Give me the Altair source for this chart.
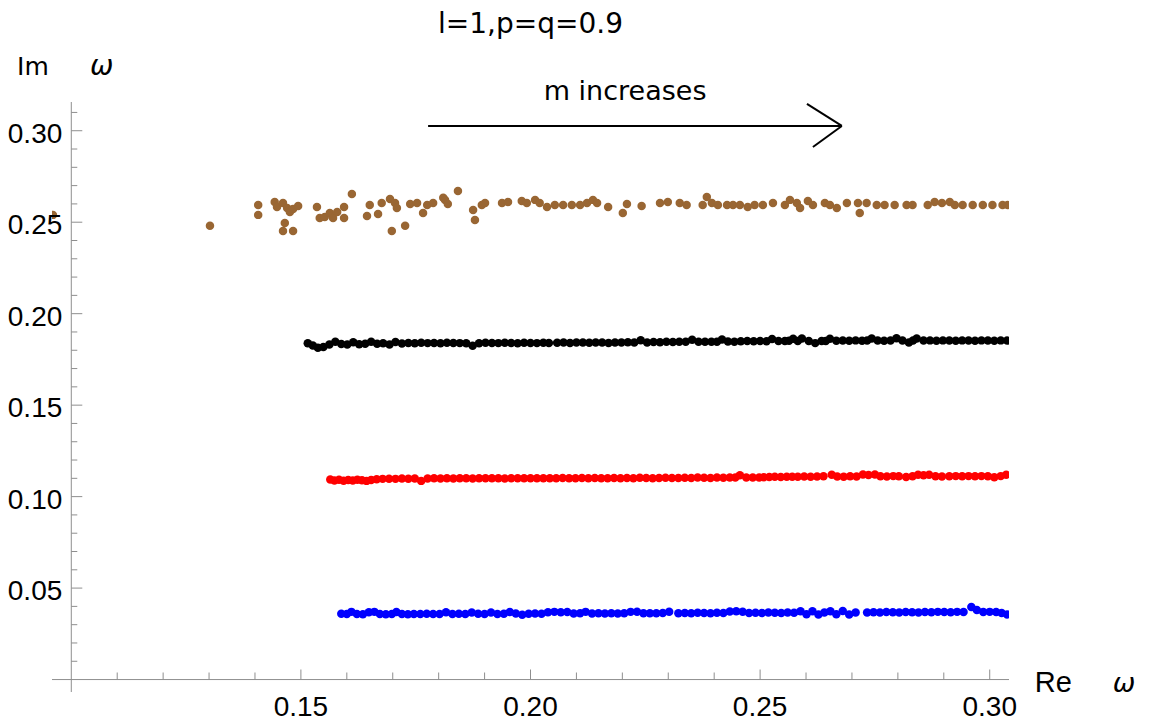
import altair as alt
import pandas as pd

# ---------------- plot range (data units) ----------------
X_MIN, X_MAX = 0.0958, 0.3042
Y_MIN, Y_MAX = -0.0068, 0.3157
AXIS_X, AXIS_Y = 0.10, 0.0

# ---------------- data series (Re w, Im w) ----------------
brown = [
    (0.0960, 0.2540), (0.1302, 0.2480), (0.1407, 0.2594), (0.1407, 0.2540), (0.1443, 0.2611),
    (0.1448, 0.2583), (0.1461, 0.2605), (0.1470, 0.2578), (0.1476, 0.2556), (0.1483, 0.2572),
    (0.1494, 0.2589), (0.1465, 0.2496), (0.1461, 0.2452), (0.1483, 0.2452), (0.1535, 0.2583),
    (0.1541, 0.2523), (0.1552, 0.2529), (0.1563, 0.2550), (0.1570, 0.2523), (0.1579, 0.2556),
    (0.1594, 0.2583), (0.1594, 0.2523), (0.1611, 0.2654), (0.1644, 0.2534), (0.1650, 0.2594),
    (0.1668, 0.2545), (0.1676, 0.2605), (0.1694, 0.2627), (0.1705, 0.2605), (0.1709, 0.2578),
    (0.1698, 0.2452), (0.1727, 0.2480), (0.1738, 0.2600), (0.1753, 0.2605), (0.1766, 0.2550),
    (0.1775, 0.2594), (0.1788, 0.2605), (0.1810, 0.2633), (0.1814, 0.2622), (0.1820, 0.2600),
    (0.1842, 0.2671), (0.1875, 0.2567), (0.1879, 0.2512), (0.1894, 0.2594), (0.1901, 0.2605),
    (0.1938, 0.2605), (0.1951, 0.2611), (0.1981, 0.2616), (0.1992, 0.2605), (0.2010, 0.2622),
    (0.2020, 0.2605), (0.2036, 0.2583), (0.2053, 0.2594), (0.2071, 0.2594), (0.2090, 0.2594),
    (0.2108, 0.2594), (0.2123, 0.2605), (0.2136, 0.2622), (0.2145, 0.2605), (0.2169, 0.2583),
    (0.2201, 0.2550), (0.2210, 0.2600), (0.2242, 0.2589), (0.2282, 0.2605), (0.2299, 0.2611),
    (0.2325, 0.2605), (0.2340, 0.2594), (0.2375, 0.2594), (0.2384, 0.2638), (0.2395, 0.2605),
    (0.2408, 0.2594), (0.2428, 0.2594), (0.2441, 0.2594), (0.2456, 0.2594), (0.2473, 0.2583),
    (0.2488, 0.2594), (0.2506, 0.2594), (0.2528, 0.2605), (0.2554, 0.2594), (0.2565, 0.2622),
    (0.2580, 0.2605), (0.2587, 0.2578), (0.2604, 0.2616), (0.2615, 0.2594), (0.2641, 0.2605),
    (0.2652, 0.2594), (0.2667, 0.2578), (0.2689, 0.2605), (0.2713, 0.2605), (0.2717, 0.2550),
    (0.2732, 0.2605), (0.2754, 0.2594), (0.2771, 0.2594), (0.2793, 0.2594), (0.2819, 0.2594),
    (0.2832, 0.2594), (0.2865, 0.2594), (0.2880, 0.2611), (0.2896, 0.2605), (0.2913, 0.2611),
    (0.2924, 0.2594), (0.2941, 0.2594), (0.2963, 0.2594), (0.2985, 0.2594), (0.3006, 0.2594),
    (0.3028, 0.2594), (0.3039, 0.2594),
]

black = [
    (0.1515, 0.1838), (0.1526, 0.1826), (0.1537, 0.1814), (0.1549, 0.1818), (0.1562, 0.1832),
    (0.1575, 0.1846), (0.1588, 0.1834), (0.1601, 0.1831), (0.1614, 0.1844), (0.1627, 0.1833),
    (0.1640, 0.1836), (0.1653, 0.1847), (0.1666, 0.1835), (0.1679, 0.1838), (0.1693, 0.1832),
    (0.1706, 0.1845), (0.1720, 0.1837), (0.1734, 0.1840), (0.1748, 0.1838), (0.1762, 0.1841),
    (0.1776, 0.1839), (0.1790, 0.1840), (0.1804, 0.1838), (0.1818, 0.1841), (0.1832, 0.1840),
    (0.1846, 0.1839), (0.1860, 0.1838), (0.1874, 0.1825), (0.1888, 0.1838), (0.1902, 0.1841),
    (0.1916, 0.1840), (0.1930, 0.1839), (0.1944, 0.1841), (0.1958, 0.1840), (0.1972, 0.1838),
    (0.1986, 0.1841), (0.2000, 0.1840), (0.2014, 0.1839), (0.2028, 0.1841), (0.2040, 0.1840),
    (0.2058, 0.1841), (0.2072, 0.1842), (0.2086, 0.1840), (0.2100, 0.1843), (0.2114, 0.1842),
    (0.2128, 0.1841), (0.2142, 0.1843), (0.2156, 0.1842), (0.2170, 0.1840), (0.2184, 0.1843),
    (0.2198, 0.1842), (0.2212, 0.1844), (0.2226, 0.1842), (0.2240, 0.1855), (0.2254, 0.1843),
    (0.2268, 0.1845), (0.2282, 0.1844), (0.2296, 0.1846), (0.2310, 0.1845), (0.2324, 0.1846),
    (0.2338, 0.1846), (0.2352, 0.1858), (0.2366, 0.1847), (0.2380, 0.1846), (0.2394, 0.1847),
    (0.2406, 0.1846), (0.2417, 0.1859), (0.2430, 0.1848), (0.2444, 0.1847), (0.2458, 0.1849),
    (0.2472, 0.1850), (0.2486, 0.1849), (0.2500, 0.1850), (0.2514, 0.1849), (0.2526, 0.1862),
    (0.2540, 0.1850), (0.2554, 0.1851), (0.2563, 0.1852), (0.2572, 0.1863), (0.2582, 0.1851),
    (0.2591, 0.1864), (0.2606, 0.1851), (0.2620, 0.1839), (0.2634, 0.1850), (0.2643, 0.1851),
    (0.2652, 0.1863), (0.2666, 0.1852), (0.2680, 0.1853), (0.2694, 0.1852), (0.2708, 0.1854),
    (0.2722, 0.1852), (0.2733, 0.1853), (0.2743, 0.1864), (0.2756, 0.1853), (0.2770, 0.1852),
    (0.2784, 0.1853), (0.2797, 0.1865), (0.2810, 0.1853), (0.2824, 0.1842), (0.2833, 0.1853),
    (0.2841, 0.1864), (0.2856, 0.1853), (0.2870, 0.1854), (0.2884, 0.1852), (0.2898, 0.1854),
    (0.2912, 0.1853), (0.2926, 0.1852), (0.2940, 0.1854), (0.2954, 0.1853), (0.2968, 0.1852),
    (0.2982, 0.1854), (0.2996, 0.1853), (0.3010, 0.1852), (0.3024, 0.1854), (0.3038, 0.1853),
]

red = [
    (0.1564, 0.1093), (0.1573, 0.1088), (0.1583, 0.1092), (0.1593, 0.1087), (0.1603, 0.1091),
    (0.1613, 0.1088), (0.1623, 0.1092), (0.1633, 0.1089), (0.1643, 0.1086), (0.1653, 0.1091),
    (0.1665, 0.1095), (0.1678, 0.1097), (0.1692, 0.1098), (0.1706, 0.1097), (0.1720, 0.1099),
    (0.1734, 0.1098), (0.1748, 0.1099), (0.1762, 0.1086), (0.1776, 0.1099), (0.1790, 0.1100),
    (0.1804, 0.1099), (0.1818, 0.1100), (0.1832, 0.1099), (0.1846, 0.1101), (0.1860, 0.1100),
    (0.1874, 0.1099), (0.1888, 0.1101), (0.1902, 0.1100), (0.1916, 0.1101), (0.1930, 0.1100),
    (0.1944, 0.1099), (0.1958, 0.1101), (0.1972, 0.1100), (0.1986, 0.1101), (0.2000, 0.1100),
    (0.2014, 0.1101), (0.2028, 0.1100), (0.2042, 0.1101), (0.2056, 0.1100), (0.2070, 0.1102),
    (0.2084, 0.1101), (0.2098, 0.1100), (0.2112, 0.1102), (0.2126, 0.1101), (0.2140, 0.1102),
    (0.2154, 0.1101), (0.2168, 0.1100), (0.2182, 0.1102), (0.2196, 0.1101), (0.2210, 0.1102),
    (0.2224, 0.1101), (0.2238, 0.1103), (0.2252, 0.1102), (0.2266, 0.1101), (0.2280, 0.1102),
    (0.2294, 0.1103), (0.2308, 0.1102), (0.2322, 0.1102), (0.2336, 0.1103), (0.2350, 0.1102),
    (0.2364, 0.1104), (0.2378, 0.1103), (0.2392, 0.1102), (0.2406, 0.1104), (0.2420, 0.1103),
    (0.2434, 0.1104), (0.2446, 0.1105), (0.2456, 0.1117), (0.2470, 0.1104), (0.2484, 0.1105),
    (0.2498, 0.1104), (0.2508, 0.1106), (0.2520, 0.1107), (0.2532, 0.1108), (0.2545, 0.1107),
    (0.2558, 0.1109), (0.2570, 0.1108), (0.2582, 0.1108), (0.2596, 0.1110), (0.2610, 0.1109),
    (0.2624, 0.1110), (0.2638, 0.1111), (0.2656, 0.1120), (0.2668, 0.1110), (0.2682, 0.1109),
    (0.2696, 0.1111), (0.2710, 0.1110), (0.2724, 0.1121), (0.2736, 0.1118), (0.2750, 0.1121),
    (0.2762, 0.1111), (0.2776, 0.1110), (0.2790, 0.1112), (0.2802, 0.1111), (0.2818, 0.1107),
    (0.2832, 0.1111), (0.2844, 0.1120), (0.2856, 0.1117), (0.2868, 0.1120), (0.2882, 0.1111),
    (0.2896, 0.1110), (0.2912, 0.1111), (0.2926, 0.1112), (0.2940, 0.1111), (0.2954, 0.1112),
    (0.2968, 0.1111), (0.2982, 0.1112), (0.2996, 0.1111), (0.3010, 0.1106), (0.3024, 0.1112),
    (0.3036, 0.1120),
]

blue = [
    (0.1588, 0.0360), (0.1600, 0.0358), (0.1610, 0.0370), (0.1622, 0.0359), (0.1635, 0.0357),
    (0.1648, 0.0368), (0.1660, 0.0370), (0.1672, 0.0358), (0.1685, 0.0357), (0.1698, 0.0359),
    (0.1708, 0.0369), (0.1720, 0.0358), (0.1733, 0.0357), (0.1746, 0.0359), (0.1760, 0.0358),
    (0.1774, 0.0360), (0.1788, 0.0358), (0.1802, 0.0359), (0.1816, 0.0368), (0.1830, 0.0359),
    (0.1844, 0.0360), (0.1858, 0.0358), (0.1872, 0.0367), (0.1886, 0.0360), (0.1900, 0.0358),
    (0.1914, 0.0366), (0.1928, 0.0359), (0.1942, 0.0360), (0.1955, 0.0369), (0.1968, 0.0361),
    (0.1982, 0.0354), (0.1996, 0.0360), (0.2010, 0.0361), (0.2024, 0.0360), (0.2038, 0.0368),
    (0.2052, 0.0370), (0.2066, 0.0368), (0.2080, 0.0369), (0.2094, 0.0361), (0.2108, 0.0362),
    (0.2120, 0.0370), (0.2134, 0.0361), (0.2148, 0.0362), (0.2162, 0.0361), (0.2176, 0.0363),
    (0.2190, 0.0361), (0.2204, 0.0362), (0.2218, 0.0370), (0.2232, 0.0371), (0.2246, 0.0362),
    (0.2260, 0.0363), (0.2274, 0.0362), (0.2288, 0.0364), (0.2302, 0.0371), (0.2322, 0.0363),
    (0.2336, 0.0364), (0.2350, 0.0363), (0.2364, 0.0365), (0.2378, 0.0364), (0.2392, 0.0363),
    (0.2406, 0.0365), (0.2420, 0.0364), (0.2434, 0.0372), (0.2448, 0.0373), (0.2462, 0.0371),
    (0.2476, 0.0364), (0.2490, 0.0365), (0.2504, 0.0364), (0.2518, 0.0366), (0.2532, 0.0365),
    (0.2546, 0.0364), (0.2560, 0.0366), (0.2574, 0.0365), (0.2588, 0.0373), (0.2601, 0.0357),
    (0.2614, 0.0374), (0.2627, 0.0356), (0.2640, 0.0366), (0.2653, 0.0374), (0.2666, 0.0357),
    (0.2680, 0.0375), (0.2694, 0.0356), (0.2708, 0.0366), (0.2733, 0.0367), (0.2747, 0.0368),
    (0.2761, 0.0367), (0.2775, 0.0369), (0.2789, 0.0368), (0.2803, 0.0367), (0.2817, 0.0369),
    (0.2831, 0.0368), (0.2845, 0.0367), (0.2859, 0.0369), (0.2873, 0.0368), (0.2887, 0.0370),
    (0.2901, 0.0369), (0.2915, 0.0368), (0.2929, 0.0370), (0.2943, 0.0369), (0.2960, 0.0396),
    (0.2972, 0.0380), (0.2986, 0.0369), (0.3000, 0.0370), (0.3014, 0.0369), (0.3026, 0.0364),
    (0.3038, 0.0356),
]

series_names = ["m4", "m3", "m2", "m1"]
series_colors = ["#996633", "#000000", "#ff0000", "#0000ff"]

# ---------------- axis ticks & labels ----------------
x_major = [0.15, 0.20, 0.25, 0.30]
x_major_labels = ["0.15", "0.20", "0.25", "0.30"]
x_minor = [0.11, 0.12, 0.13, 0.14, 0.16, 0.17, 0.18, 0.19, 0.21, 0.22, 0.23, 0.24,
           0.26, 0.27, 0.28, 0.29]
y_major = [0.05, 0.10, 0.15, 0.20, 0.25, 0.30]
y_major_labels = ["0.05", "0.10", "0.15", "0.20", "0.25", "0.30"]
y_minor = [0.01, 0.02, 0.03, 0.04, 0.06, 0.07, 0.08, 0.09, 0.11, 0.12, 0.13, 0.14,
           0.16, 0.17, 0.18, 0.19, 0.21, 0.22, 0.23, 0.24, 0.26, 0.27, 0.28, 0.29, 0.31]

# ---------------- annotations (data coordinates) ----------------
title_text = "l=1,p=q=0.9"
title_pos = (0.2000, 0.3535)
note_text = "m increases"
note_pos = (0.2206, 0.3168)
arrow_x = [0.1777, 0.2602, 0.2615]
arrow_y = [0.3026, 0.3147, 0.2911]
arrow_x2 = [0.2678, 0.2678, 0.2678]
arrow_y2 = [0.3026, 0.3026, 0.3026]
ylab_parts = [("Im", 0.0882, 0.3305), ("\u03c9", 0.1041, 0.3305)]
xlab_parts = [("Re", 0.3098, -0.0068), ("\u03c9", 0.3268, -0.0068)]

AXIS_COLOR = "#8e8e8e"

# ---------------- build ----------------
rows = []
for name, pts in zip(series_names, [brown, black, red, blue]):
    for x, y in pts:
        rows.append({"re": x, "im": y, "series": name})
df = pd.DataFrame(rows)

xs = alt.Scale(domain=[X_MIN, X_MAX], nice=False, zero=False)
ys = alt.Scale(domain=[Y_MIN, Y_MAX], nice=False, zero=False)


def X(f):
    return alt.X(f, type="quantitative", scale=xs, axis=None)


def Y(f):
    return alt.Y(f, type="quantitative", scale=ys, axis=None)


points = alt.Chart(df).mark_circle(size=72, opacity=1, clip=True).encode(
    x=X("re"), y=Y("im"),
    color=alt.Color("series:N", scale=alt.Scale(domain=series_names, range=series_colors), legend=None),
)

yaxis_line = alt.Chart(pd.DataFrame({"x": [AXIS_X]})).mark_rule(
    color=AXIS_COLOR, strokeWidth=1).encode(x=X("x"))
xaxis_line = alt.Chart(pd.DataFrame({"y": [AXIS_Y]})).mark_rule(
    color=AXIS_COLOR, strokeWidth=1).encode(y=Y("y"))

ytm = pd.DataFrame({"x": [AXIS_X] * len(y_major), "y": y_major, "t": y_major_labels})
ytn = pd.DataFrame({"x": [AXIS_X] * len(y_minor), "y": y_minor})
xtm = pd.DataFrame({"x": x_major, "y": [AXIS_Y] * len(x_major), "t": x_major_labels})
xtn = pd.DataFrame({"x": x_minor, "y": [AXIS_Y] * len(x_minor)})

y_major_ticks = alt.Chart(ytm).mark_tick(orient="horizontal", size=11, thickness=1, xOffset=5.5,
                                         color=AXIS_COLOR, opacity=1).encode(x=X("x"), y=Y("y"))
y_minor_ticks = alt.Chart(ytn).mark_tick(orient="horizontal", size=6, thickness=1, xOffset=3,
                                         color=AXIS_COLOR, opacity=1).encode(x=X("x"), y=Y("y"))
x_major_ticks = alt.Chart(xtm).mark_tick(orient="vertical", size=10, thickness=1, yOffset=-5,
                                         color=AXIS_COLOR, opacity=1).encode(x=X("x"), y=Y("y"))
x_minor_ticks = alt.Chart(xtn).mark_tick(orient="vertical", size=7, thickness=1, yOffset=-3.5,
                                         color=AXIS_COLOR, opacity=1).encode(x=X("x"), y=Y("y"))

y_labels = alt.Chart(ytm).mark_text(align="right", baseline="alphabetic", dx=-9, dy=12,
                                    font="Liberation Sans", fontSize=28, color="black").encode(
    x=X("x"), y=Y("y"), text="t:N")
x_labels = alt.Chart(xtm).mark_text(align="center", baseline="alphabetic", dy=36,
                                    font="Liberation Sans", fontSize=28, color="black").encode(
    x=X("x"), y=Y("y"), text="t:N")

arrow = alt.Chart(pd.DataFrame({"x": arrow_x, "y": arrow_y, "x2": arrow_x2, "y2": arrow_y2})).mark_rule(
    color="black", strokeWidth=2).encode(x=X("x"), y=Y("y"), x2="x2:Q", y2="y2:Q")

title = alt.Chart(pd.DataFrame({"x": [title_pos[0]], "y": [title_pos[1]], "t": [title_text]})).mark_text(
    align="center", baseline="alphabetic", font="DejaVu Sans", fontSize=28, color="black").encode(
    x=X("x"), y=Y("y"), text="t:N")
note = alt.Chart(pd.DataFrame({"x": [note_pos[0]], "y": [note_pos[1]], "t": [note_text]})).mark_text(
    align="center", baseline="alphabetic", font="DejaVu Sans", fontSize=27, color="black").encode(
    x=X("x"), y=Y("y"), text="t:N")

im_lab = alt.Chart(pd.DataFrame({"x": [ylab_parts[0][1]], "y": [ylab_parts[0][2]], "t": [ylab_parts[0][0]]})).mark_text(
    align="left", baseline="alphabetic", font="DejaVu Sans", fontSize=25, color="black").encode(
    x=X("x"), y=Y("y"), text="t:N")
im_w = alt.Chart(pd.DataFrame({"x": [ylab_parts[1][1]], "y": [ylab_parts[1][2]], "t": [ylab_parts[1][0]]})).mark_text(
    align="left", baseline="alphabetic", font="DejaVu Sans", fontStyle="italic", fontSize=28, color="black").encode(
    x=X("x"), y=Y("y"), text="t:N")
re_lab = alt.Chart(pd.DataFrame({"x": [xlab_parts[0][1]], "y": [xlab_parts[0][2]], "t": [xlab_parts[0][0]]})).mark_text(
    align="left", baseline="alphabetic", font="Liberation Sans", fontSize=29, color="black").encode(
    x=X("x"), y=Y("y"), text="t:N")
re_w = alt.Chart(pd.DataFrame({"x": [xlab_parts[1][1]], "y": [xlab_parts[1][2]], "t": [xlab_parts[1][0]]})).mark_text(
    align="left", baseline="alphabetic", font="DejaVu Sans", fontStyle="italic", fontSize=27, color="black").encode(
    x=X("x"), y=Y("y"), text="t:N")

chart = alt.layer(
    xaxis_line, yaxis_line, x_minor_ticks, x_major_ticks, y_minor_ticks, y_major_ticks,
    points, arrow, x_labels, y_labels, title, note, im_lab, im_w, re_lab, re_w,
).properties(
    width=957, height=590,
    autosize=alt.AutoSizeParams(type="none"),
    padding={"left": 44, "top": 94, "right": 136, "bottom": 30},
    background="white",
).configure_view(stroke=None)

chart.save("out.html", embed_options={"renderer": "svg", "actions": False})
